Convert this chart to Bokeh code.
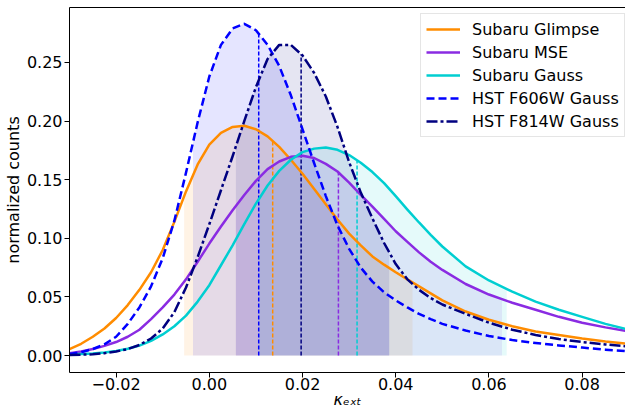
import numpy as np
from bokeh.plotting import figure
from bokeh.models import (Range1d, FixedTicker, PrintfTickFormatter, Legend, LegendItem,
                          LinearAxis)
from bokeh.embed import file_html
from bokeh.resources import INLINE

# ---------------- data ----------------
kappa = [-0.03, -0.0275, -0.025, -0.0225, -0.02, -0.0175, -0.015, -0.0125, -0.01, -0.0075,
         -0.005, -0.0025, 0.0, 0.0025, 0.005, 0.0075, 0.01, 0.0125, 0.015, 0.0175,
         0.02, 0.0225, 0.025, 0.0275, 0.03, 0.0325, 0.035, 0.0375, 0.04, 0.0425,
         0.045, 0.0475, 0.05, 0.055, 0.06, 0.065, 0.07, 0.075, 0.08, 0.085, 0.09]

subaru_glimpse = [0.0055, 0.010, 0.016, 0.023, 0.032, 0.043, 0.056, 0.071, 0.090, 0.114,
                  0.140, 0.163, 0.180, 0.190, 0.195, 0.196, 0.193, 0.187, 0.178, 0.167,
                  0.155, 0.142, 0.129, 0.116, 0.104, 0.094, 0.0845, 0.0775, 0.071, 0.065,
                  0.059, 0.053, 0.047, 0.0375, 0.0305, 0.025, 0.0205, 0.0175, 0.0145, 0.012, 0.010]

subaru_mse = [0.002, 0.0035, 0.0055, 0.0082, 0.0115, 0.016, 0.022, 0.031, 0.041, 0.052,
              0.065, 0.080, 0.0955, 0.110, 0.124, 0.137, 0.149, 0.159, 0.1655, 0.1695,
              0.1705, 0.1685, 0.1635, 0.157, 0.1475, 0.137, 0.127, 0.1165, 0.106, 0.097,
              0.088, 0.080, 0.073, 0.061, 0.052, 0.045, 0.039, 0.033, 0.028, 0.024, 0.0205]

subaru_gauss = [0.0010, 0.0013, 0.0018, 0.0026, 0.0038, 0.0057, 0.0085, 0.0125, 0.018, 0.025,
                0.034, 0.046, 0.060, 0.077, 0.094, 0.112, 0.1295, 0.145, 0.1575, 0.167,
                0.1735, 0.1765, 0.1775, 0.1755, 0.171, 0.1645, 0.1565, 0.147, 0.136, 0.1245,
                0.1135, 0.103, 0.093, 0.076, 0.064, 0.0545, 0.046, 0.039, 0.033, 0.027, 0.022]

hst_f606w = [0.0012, 0.0028, 0.0055, 0.0095, 0.016, 0.027, 0.041, 0.059, 0.083, 0.115,
             0.156, 0.199, 0.238, 0.265, 0.279, 0.283, 0.2775, 0.265, 0.247, 0.222,
             0.193, 0.164, 0.136, 0.111, 0.091, 0.075, 0.063, 0.054, 0.047, 0.041,
             0.0355, 0.031, 0.027, 0.0213, 0.0166, 0.0132, 0.0107, 0.0086, 0.0068, 0.0050, 0.0035]

hst_f814w = [0.0004, 0.0007, 0.001, 0.002, 0.0034, 0.0055, 0.009, 0.0145, 0.023, 0.037,
             0.058, 0.084, 0.112, 0.141, 0.170, 0.200, 0.229, 0.253, 0.265, 0.265,
             0.256, 0.241, 0.221, 0.195, 0.165, 0.139, 0.117, 0.096, 0.078, 0.065,
             0.056, 0.049, 0.0435, 0.0355, 0.028, 0.022, 0.0175, 0.014, 0.0115, 0.0094, 0.0077]

names = ["Subaru Glimpse", "Subaru MSE", "Subaru Gauss", "HST F606W Gauss", "HST F814W Gauss"]
series = [subaru_glimpse, subaru_mse, subaru_gauss, hst_f606w, hst_f814w]
lower_bounds = [-0.0054, 0.0057, 0.0107, -0.0035, 0.0057]
upper_bounds = [0.0436, 0.0628, 0.0638, 0.0386, 0.0386]
medians = [0.0136, 0.0277, 0.0317, 0.0106, 0.0197]

x_ticks = [-0.02, 0.0, 0.02, 0.04, 0.06, 0.08]
x_tick_labels = ["\u22120.02", "0.00", "0.02", "0.04", "0.06", "0.08"]
y_ticks = [0.0, 0.05, 0.10, 0.15, 0.20, 0.25]
y_tick_labels = ["0.00", "0.05", "0.10", "0.15", "0.20", "0.25"]
x_title = "\u03ba\u2091\u2093\u209c"
y_title = "normalized counts"

# ---------------- styling ----------------
colors = ["darkorange", "blueviolet", "darkturquoise", "blue", "navy"]
dashes = ["solid", "solid", "solid", "8 4", "11 3 3 3"]
FONT = "DejaVu Sans"

p = figure(width=625, height=415, output_backend="svg", toolbar_location=None,
           x_range=Range1d(-0.03, 0.0893), y_range=Range1d(-0.0145, 0.2969),
           min_border_left=67, min_border_right=0, min_border_top=7, min_border_bottom=43,
           background_fill_color="white", border_fill_color="white")
p.grid.visible = False
p.outline_line_color = None

for ax, ticks, labels in ((p.xaxis[0], x_ticks, x_tick_labels), (p.yaxis[0], y_ticks, y_tick_labels)):
    ax.ticker = FixedTicker(ticks=ticks)
    ax.formatter = PrintfTickFormatter(format="%.2f")
    ax.major_label_overrides = {t: l for t, l in zip(ticks, labels)}
    ax.major_label_text_font = FONT
    ax.major_label_text_font_size = "16px"
    ax.major_label_text_color = "black"
    ax.major_tick_out = 5
    ax.major_tick_in = 0
    ax.minor_tick_out = 0
    ax.minor_tick_in = 0
    ax.axis_line_color = "black"
    ax.major_tick_line_color = "black"
    ax.axis_label_text_font = FONT
    ax.axis_label_text_font_size = "16px"
    ax.axis_label_text_color = "black"

p.xaxis[0].major_label_standoff = 0
p.yaxis[0].major_label_standoff = 2
p.xaxis[0].axis_label = x_title
p.xaxis[0].axis_label_text_font_style = "italic"
p.xaxis[0].axis_label_standoff = -3
p.yaxis[0].axis_label = y_title
p.yaxis[0].axis_label_text_font_style = "normal"
p.yaxis[0].axis_label_standoff = 1

top = LinearAxis(ticker=FixedTicker(ticks=[]), major_label_text_font_size="0px",
                 major_tick_out=0, major_tick_in=0, minor_tick_out=0, minor_tick_in=0,
                 major_label_standoff=0, axis_line_color="black")
p.add_layout(top, "above")

k = np.array(kappa)
# shaded intervals under each curve
for s, c, lo, hi in zip(series, colors, lower_bounds, upper_bounds):
    v = np.array(s)
    m = (k > lo) & (k < hi)
    xs = np.concatenate([[lo], k[m], [hi]])
    ys = np.interp(xs, k, v)
    p.varea(x=xs, y1=np.zeros_like(xs), y2=ys, fill_color=c, fill_alpha=0.1)

# median markers
for s, c, md in zip(series, colors, medians):
    h = float(np.interp(md, k, np.array(s)))
    p.segment(x0=[md], y0=[0], x1=[md], y1=[h], line_color=c, line_width=1.5, line_dash="4 2")

items = []
for n, s, c, d in zip(names, series, colors, dashes):
    r = p.line(kappa, s, line_color=c, line_width=2.5, line_dash=d, line_join="round")
    items.append(LegendItem(label=n, renderers=[r]))

legend = Legend(items=items, location=(351, 235), label_text_font=FONT,
                label_text_font_size="16px", label_text_color="black",
                glyph_width=34, glyph_height=20, label_height=20, spacing=3,
                padding=5, margin=0, label_standoff=12,
                border_line_color="#cccccc", border_line_width=1,
                background_fill_color="white", background_fill_alpha=0.8)
p.add_layout(legend)

open("out.html", "w").write(file_html(p, INLINE))
